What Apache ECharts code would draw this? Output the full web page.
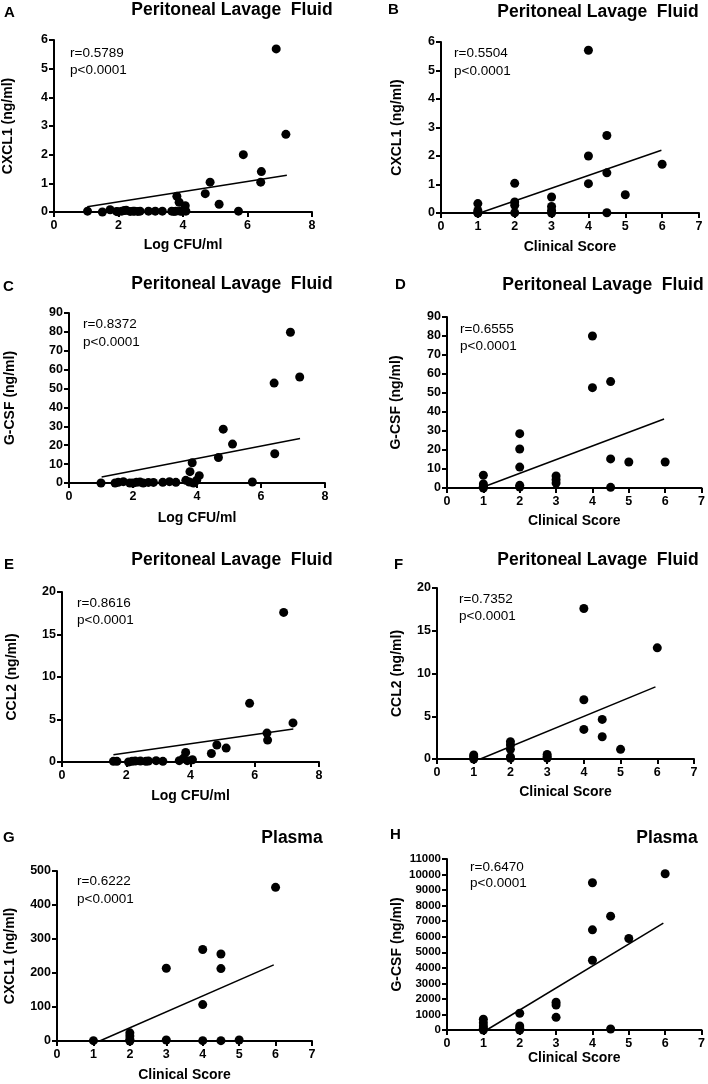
<!DOCTYPE html>
<html>
<head>
<meta charset="utf-8">
<script src="https://cdn.jsdelivr.net/npm/echarts@6/dist/echarts.min.js"></script>
<style>
  html, body { margin: 0; padding: 0; background: #fff; }
  #main { width: 708px; height: 1084px; }
</style>
</head>
<body>
<div id="main"></div>
<script>
// panel A - PLF CXCL1 vs Log CFU/ml
var aX = [1.04, 1.5, 1.74, 1.94, 1.98, 2.1, 2.18, 2.24, 2.36, 2.45, 2.5, 2.6, 2.67, 2.93, 3.14, 3.36, 3.65, 3.72, 3.78, 3.81, 3.88, 3.91, 3.98, 4.07, 4.09, 4.69, 4.84, 5.12, 5.72, 5.87, 6.41, 6.43, 6.89, 7.19];
var aY = [0.03, 0, 0.08, 0.02, 0.01, 0.03, 0.05, 0.06, 0.02, 0.03, 0.03, 0.02, 0.03, 0.03, 0.03, 0.03, 0.03, 0.02, 0.03, 0.55, 0.34, 0.03, 0.02, 0.22, 0.03, 0.64, 1.04, 0.27, 0.03, 2.0, 1.04, 1.41, 5.69, 2.71];
var aFit = [[1.03, 0.18], [7.22, 1.28]];

// panel B - PLF CXCL1 vs clinical score
var bX = [1, 1, 1, 1, 2, 2, 2, 2, 3, 3, 3, 3, 4, 4, 4, 4.5, 4.5, 4.5, 5, 6];
var bY = [0.33, 0.09, 0.01, 0, 1.04, 0.39, 0.27, 0.01, 0.56, 0.23, 0.09, 0, 5.71, 2.0, 1.03, 2.72, 1.41, 0.01, 0.64, 1.71];
var bFit = [[1.05, 0], [5.98, 2.2]];

// panel C - PLF G-CSF vs Log CFU/ml
var cX = [1.0, 1.44, 1.54, 1.7, 1.9, 2.0, 2.11, 2.22, 2.32, 2.48, 2.64, 2.93, 3.14, 3.34, 3.65, 3.76, 3.78, 3.85, 3.89, 3.99, 4.07, 4.67, 4.82, 5.11, 5.73, 6.41, 6.43, 6.92, 7.21];
var cY = [0, 0, 0.35, 0.7, 0, 0, 0.35, 0.5, 0, 0.3, 0.3, 0.35, 0.7, 0.35, 1.4, 0.5, 6.0, 10.7, 0, 1.4, 3.9, 13.5, 28.5, 20.6, 0.5, 52.9, 15.5, 79.8, 56.1];
var cFit = [[1.02, 3.2], [7.22, 23.5]];

// panel D - PLF G-CSF vs clinical score
var dX = [1, 1, 1, 1, 2, 2, 2, 2, 2, 3, 3, 3, 4, 4, 4.5, 4.5, 4.5, 5, 6];
var dY = [6.7, 2.1, 0.9, 0, 28.6, 20.5, 11.0, 1.4, 0.5, 6.3, 4.4, 2.6, 80, 52.8, 56, 15.3, 0.35, 13.7, 13.7];
var dFit = [[1.0, 0.5], [5.97, 36.3]];

// panel E - PLF CCL2 vs Log CFU/ml
var eX = [1.6, 1.71, 2.07, 2.18, 2.28, 2.44, 2.61, 2.69, 2.93, 3.14, 3.65, 3.78, 3.85, 3.9, 4.06, 4.65, 4.82, 5.11, 5.84, 6.38, 6.4, 6.9, 7.19];
var eY = [0.08, 0.08, 0, 0.08, 0.12, 0.12, 0.08, 0.12, 0.16, 0.08, 0.16, 0.43, 1.13, 0.16, 0.27, 1.0, 2.0, 1.64, 6.9, 3.4, 2.58, 17.6, 4.6];
var eFit = [[1.6, 0.86], [7.2, 3.87]];

// panel F - PLF CCL2 vs clinical score
var fX = [1, 1, 1, 2, 2, 2, 2, 2, 3, 3, 3, 4, 4, 4, 4.5, 4.5, 5, 6];
var fY = [0.47, 0.27, 0, 2.02, 1.63, 1.13, 0.23, 0.08, 0.54, 0.27, 0.12, 17.6, 6.93, 3.46, 4.63, 2.6, 1.13, 13.0];
var fFit = [[1.18, 0], [5.95, 8.44]];

// panel G - plasma CXCL1 vs clinical score
var gX = [1, 2, 2, 2, 2, 3, 3, 4, 4, 4, 4.5, 4.5, 4.5, 5, 6];
var gY = [1, 24, 15, 5, 0, 214, 3, 269, 107, 1, 256, 213, 1, 3, 452];
var gFit = [[1.17, 0], [5.95, 224]];

// panel H - plasma G-CSF vs clinical score
var hX = [1, 1, 1, 1, 1, 2, 2, 2, 2, 3, 3, 3, 4, 4, 4, 4.5, 4.5, 5, 6];
var hY = [690, 470, 260, 110, 0, 1075, 260, 110, 0, 1785, 1610, 815, 9475, 6445, 4490, 7325, 65, 5886, 10054];
var hFit = [[1.09, 0], [5.95, 6875]];

var FONT = 'Liberation Sans, Arial, sans-serif';

// panel layout: grid box, axes, labels
var panels = [
    { key: 'A', xs: aX, ys: aY, fit: aFit, grid: [54, 40, 258, 172], xMax: 8, xInt: 2, yMax: 6, yInt: 1,
      xName: 'Log CFU/ml', yName: 'CXCL1 (ng/ml)', xGap: 26, yGap: 39, title: 'Peritoneal Lavage  Fluid', tPos: [232, 10], lPos: [8, 13],
      r: 'r=0.5789', rPos: [70, 53, 70] },
    { key: 'B', xs: bX, ys: bY, fit: bFit, grid: [441, 42, 258, 171], xMax: 7, xInt: 1, yMax: 6, yInt: 1,
      xName: 'Clinical Score', yName: 'CXCL1 (ng/ml)', xGap: 27, yGap: 37, title: 'Peritoneal Lavage  Fluid', tPos: [598, 12], lPos: [392, 10],
      r: 'r=0.5504', rPos: [454, 53, 71] },
    { key: 'C', xs: cX, ys: cY, fit: cFit, grid: [69, 313, 256, 170], xMax: 8, xInt: 2, yMax: 90, yInt: 10,
      xName: 'Log CFU/ml', yName: 'G-CSF (ng/ml)', xGap: 28, yGap: 52, title: 'Peritoneal Lavage  Fluid', tPos: [232, 284], lPos: [7, 287],
      r: 'r=0.8372', rPos: [83, 324, 342] },
    { key: 'D', xs: dX, ys: dY, fit: dFit, grid: [447, 317, 257, 171], xMax: 7, xInt: 1, yMax: 90, yInt: 10,
      xName: 'Clinical Score', yName: 'G-CSF (ng/ml)', xGap: 26, yGap: 44, title: 'Peritoneal Lavage  Fluid', tPos: [603, 285], lPos: [399, 285],
      r: 'r=0.6555', rPos: [460, 329, 346] },
    { key: 'E', xs: eX, ys: eY, fit: eFit, grid: [62, 592, 257, 170], xMax: 8, xInt: 2, yMax: 20, yInt: 5,
      xName: 'Log CFU/ml', yName: 'CCL2 (ng/ml)', xGap: 27, yGap: 43, title: 'Peritoneal Lavage  Fluid', tPos: [232, 560], lPos: [8, 565],
      r: 'r=0.8616', rPos: [77, 603, 620] },
    { key: 'F', xs: fX, ys: fY, fit: fFit, grid: [437, 588, 257, 171], xMax: 7, xInt: 1, yMax: 20, yInt: 5,
      xName: 'Clinical Score', yName: 'CCL2 (ng/ml)', xGap: 26, yGap: 33, title: 'Peritoneal Lavage  Fluid', tPos: [598, 560], lPos: [398, 565],
      r: 'r=0.7352', rPos: [459, 599, 616] },
    { key: 'G', xs: gX, ys: gY, fit: gFit, grid: [57, 871, 255, 170], xMax: 7, xInt: 1, yMax: 500, yInt: 100,
      xName: 'Clinical Score', yName: 'CXCL1 (ng/ml)', xGap: 27, yGap: 40, title: 'Plasma', tPos: [292, 838], lPos: [7, 838],
      r: 'r=0.6222', rPos: [77, 881, 899] },
    { key: 'H', xs: hX, ys: hY, fit: hFit, grid: [447, 859, 257, 171], xMax: 7, xInt: 1, yMax: 11000, yInt: 1000,
      xName: 'Clinical Score', yName: 'G-CSF (ng/ml)', xGap: 17, yGap: 43, title: 'Plasma', tPos: [667, 838], lPos: [394, 835],
      r: 'r=0.6470', rPos: [470, 867, 883] }
];

var grids = [], xAxes = [], yAxes = [], series = [], texts = [];

// plain numbers, no thousands separator
var plain = function (v) { return String(v); };

panels.forEach(function (p, i) {
    grids.push({ left: p.grid[0], top: p.grid[1], width: p.grid[2], height: p.grid[3], containLabel: false });

    var axisCommon = {
        axisLine: { show: true, lineStyle: { color: '#000', width: 2 } },
        axisTick: { show: true, length: 5, lineStyle: { color: '#000', width: 2 } },
        splitLine: { show: false },
        nameTextStyle: { fontFamily: FONT, fontWeight: 'bold', fontSize: 14, color: '#000' }
    };
    xAxes.push(Object.assign({}, axisCommon, {
        gridIndex: i, type: 'value', min: 0, max: p.xMax, interval: p.xInt,
        name: p.xName, nameLocation: 'middle', nameGap: p.xGap,
        axisLabel: { fontFamily: FONT, fontWeight: 'bold', fontSize: 12.5, color: '#000', margin: 7, formatter: plain }
    }));
    yAxes.push(Object.assign({}, axisCommon, {
        gridIndex: i, type: 'value', min: 0, max: p.yMax, interval: p.yInt,
        name: p.yName, nameLocation: 'middle', nameGap: p.yGap,
        axisLabel: { fontFamily: FONT, fontWeight: 'bold', fontSize: p.key === 'H' ? 11.5 : 12.5, color: '#000', margin: 6, formatter: plain }
    }));

    series.push({
        type: 'scatter', xAxisIndex: i, yAxisIndex: i,
        data: p.xs.map(function (x, j) { return [x, p.ys[j]]; }),
        symbol: 'circle', symbolSize: 9, clip: false,
        itemStyle: { color: '#000', opacity: 1 }, z: 3
    });
    series.push({
        type: 'line', xAxisIndex: i, yAxisIndex: i,
        data: p.fit, symbol: 'none', clip: false,
        lineStyle: { color: '#000', width: 1.5 }, z: 2
    });

    // title, panel letter, stats
    texts.push({ type: 'text', x: p.tPos[0], y: p.tPos[1],
        style: { text: p.title, fill: '#000', font: 'bold 17.5px ' + FONT, textAlign: 'center', textVerticalAlign: 'middle' } });
    texts.push({ type: 'text', x: p.lPos[0] - 4, y: p.lPos[1],
        style: { text: p.key, fill: '#000', font: 'bold 15px ' + FONT, textAlign: 'left', textVerticalAlign: 'middle' } });
    texts.push({ type: 'text', x: p.rPos[0], y: p.rPos[1],
        style: { text: p.r, fill: '#000', font: '13.5px ' + FONT, textAlign: 'left', textVerticalAlign: 'middle' } });
    texts.push({ type: 'text', x: p.rPos[0], y: p.rPos[2],
        style: { text: 'p<0.0001', fill: '#000', font: '13.5px ' + FONT, textAlign: 'left', textVerticalAlign: 'middle' } });
});

var myChart = echarts.init(document.getElementById('main'), null, { renderer: 'canvas' });
myChart.setOption({
    animation: false,
    backgroundColor: '#fff',
    grid: grids,
    xAxis: xAxes,
    yAxis: yAxes,
    series: series,
    graphic: { elements: texts }
});
</script>
</body>
</html>
